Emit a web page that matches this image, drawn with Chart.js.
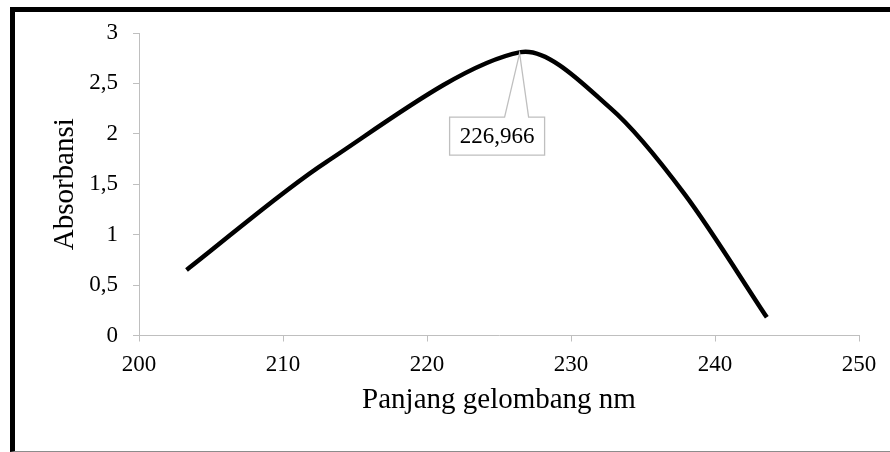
<!DOCTYPE html>
<html>
<head>
<meta charset="utf-8">
<script src="https://cdn.jsdelivr.net/npm/chart.js@4/dist/chart.umd.min.js"></script>
<style>
  html, body { margin: 0; padding: 0; background: #ffffff; }
  #wrap { position: relative; width: 890px; height: 452px; overflow: hidden; }
  #frame { position: absolute; left: 10px; top: 7px; width: 900px; height: 439px;
           border-top: 5px solid #000; border-left: 5px solid #000; border-bottom: 1px solid #8c8c8c; }
  #c { position: absolute; left: 0; top: 0; }
</style>
</head>
<body>
<div id="wrap">
  <div id="frame"></div>
  <canvas id="c" width="890" height="452"></canvas>
</div>
<script>
// ---- data ----
const wavelengths = [203.3, 213.0, 226.5, 232.7, 237.9, 243.6];
const absorbance  = [0.65, 1.72, 2.81, 2.26, 1.40, 0.18];
const xTickValues = [200, 210, 220, 230, 240, 250];
const yTickValues = [0, 0.5, 1, 1.5, 2, 2.5, 3];
const xTitle = 'Panjang gelombang nm';
const yTitle = 'Absorbansi';
const peakLabel = '226,966';

const FONT = '"Liberation Serif", "Times New Roman", serif';
const AXIS_GRAY = '#bfbfbf';

const points = wavelengths.map((x, i) => ({ x: x, y: absorbance[i] }));

const peakCallout = {
  id: 'peakCallout',
  afterDatasetsDraw(chart) {
    const meta = chart.getDatasetMeta(0);
    let best = 0;
    absorbance.forEach((v, i) => { if (v > absorbance[best]) best = i; });
    const pt = meta.data[best];
    const px = pt.x, py = pt.y;
    const ctx = chart.ctx;
    const L = px - 71, R = px + 24, T = py + 65, B = py + 103;
    ctx.save();
    ctx.beginPath();
    ctx.moveTo(L, T);
    ctx.lineTo(px - 16, T);
    ctx.lineTo(px - 1, py + 1);
    ctx.lineTo(px + 8, T);
    ctx.lineTo(R, T);
    ctx.lineTo(R, B);
    ctx.lineTo(L, B);
    ctx.closePath();
    ctx.fillStyle = '#ffffff';
    ctx.fill();
    ctx.strokeStyle = AXIS_GRAY;
    ctx.lineWidth = 1.3;
    ctx.stroke();
    ctx.fillStyle = '#000';
    ctx.font = '23px ' + FONT;
    ctx.textAlign = 'center';
    ctx.textBaseline = 'middle';
    ctx.fillText(peakLabel, (L + R) / 2, (T + B) / 2 + 1);
    ctx.restore();
  }
};

const fmt = v => String(v).replace('.', ',');

new Chart(document.getElementById('c'), {
  type: 'line',
  data: {
    datasets: [{
      data: points,
      borderColor: '#000000',
      borderWidth: 4.5,
      pointRadius: 0,
      tension: 0.3,
      fill: false,
      borderCapStyle: 'butt'
    }]
  },
  options: {
    responsive: false,
    animation: false,
    layout: { padding: { left: 0, right: 31, top: 33, bottom: 0 } },
    plugins: { legend: { display: false }, tooltip: { enabled: false } },
    scales: {
      x: {
        type: 'linear',
        min: 200, max: 250,
        afterBuildTicks: s => { s.ticks = xTickValues.map(v => ({ value: v })); },
        afterFit: s => { s.height = 116.5; },
        grid: { drawOnChartArea: false, drawTicks: true, tickLength: 6, color: AXIS_GRAY, lineWidth: 1 },
        border: { display: true, color: AXIS_GRAY, width: 1 },
        ticks: { color: '#000', font: { family: FONT, size: 23 }, padding: 10, maxRotation: 0, callback: fmt },
        title: { display: true, text: xTitle, color: '#000', font: { family: FONT, size: 29 }, padding: { top: 0, bottom: 34 } }
      },
      y: {
        type: 'linear',
        min: 0, max: 3,
        afterBuildTicks: s => { s.ticks = yTickValues.map(v => ({ value: v })); },
        afterFit: s => { s.width = 139; },
        grid: { drawOnChartArea: false, drawTicks: true, tickLength: 6, color: AXIS_GRAY, lineWidth: 1 },
        border: { display: true, color: AXIS_GRAY, width: 1 },
        ticks: { color: '#000', font: { family: FONT, size: 23 }, padding: 15, callback: fmt },
        title: { display: true, text: yTitle, color: '#000', font: { family: FONT, size: 29 }, padding: { top: 48, bottom: 0 } }
      }
    }
  },
  plugins: [peakCallout]
});
</script>
</body>
</html>
